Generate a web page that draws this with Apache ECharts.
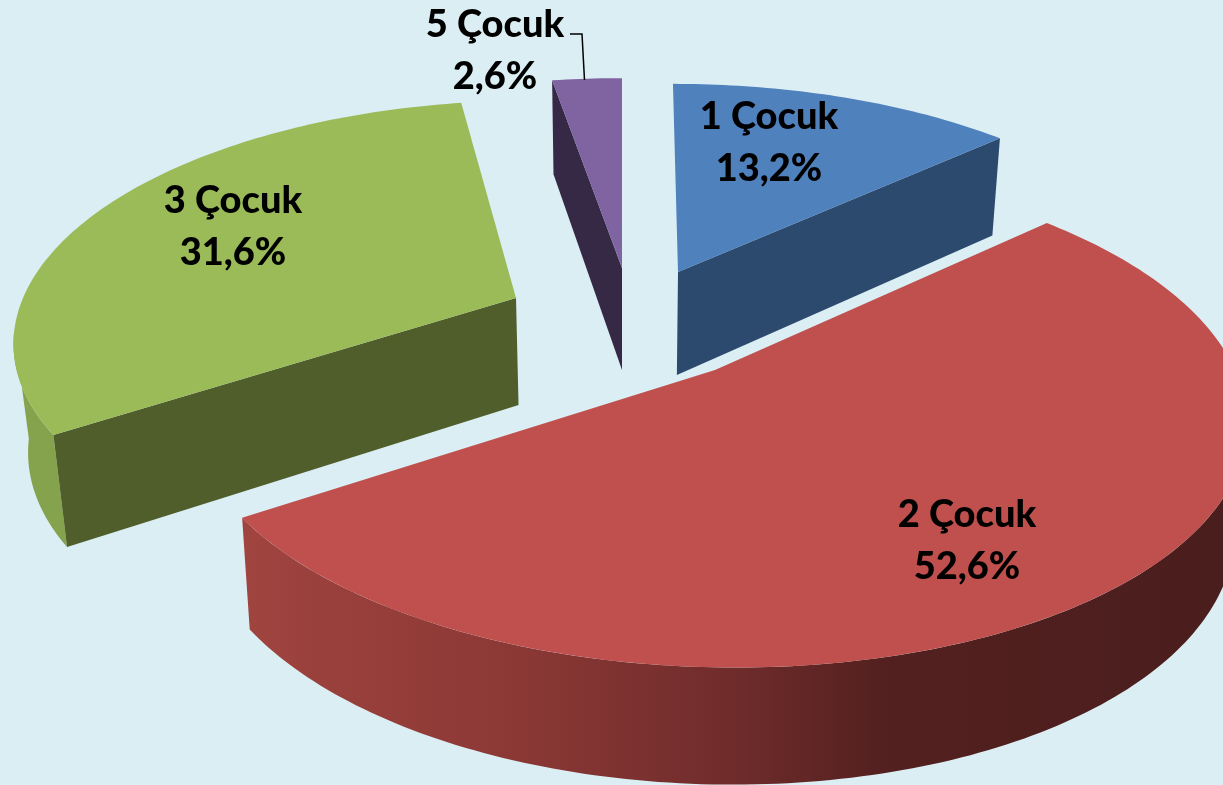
<!DOCTYPE html>
<html><head><meta charset="utf-8">
<style>html,body{margin:0;padding:0;background:#dbeef4}#c{width:1223px;height:785px}</style>
<script src="https://cdn.jsdelivr.net/npm/echarts@6/dist/echarts.min.js"></script>
</head><body><div id="c"></div>
<script>
const categories = ['1 Çocuk', '2 Çocuk', '3 Çocuk', '5 Çocuk'];
const shares = [13.2, 52.6, 31.6, 2.6];
const topColors = ['#4f81bd', '#c0504d', '#9bbb59', '#8064a2'];
const faceColors = ['#2c4a6e', null, '#505e2c', '#352945'];

// Projection of each exploded slice: apex on screen, radii, perspective strength
const view = { cx: 622 };
const geometry = [
  { ax: 678, ay: 272, R: 495, K: 222, p: 0.18, vx: 645, h: 103, q: 0.02 },
  { ax: 715, ay: 370, R: 520, K: 244, p: 0.18, vx: 622, h: 106, q: 0.02 },
  { ax: 516, ay: 298, R: 493, K: 229, p: 0.16, vx: 622, h: 107, q: 0.024 },
  { ax: 622, ay: 268, R: 506, K: 224, p: 0.18, vx: 622, h: 102, q: 0.02 }
];
// Which cut edge shows its side (0 = start edge, 1 = end edge), and outer wall span (deg)
const cutEdge = [1, null, 0, 0];
const wallSpan = [null, [104, null], [null, 262], null];
const labelPos = [[769, 143], [967, 541], [233, 227], [495, 51]];
const leader = [[570, 34], [582, 34], [584.5, 80]];

const total = shares.reduce((a, b) => a + b, 0);
const starts = [];
shares.reduce((acc, v, i) => { starts[i] = acc; return acc + v / total * 360; }, 0);

function proj(g, theta, r) {
  const t = theta * Math.PI / 180;
  const u = r * Math.sin(t), v = r * Math.cos(t);
  const s = 1 / (1 + g.p * v);
  return { x: g.vx + (g.ax - g.vx + g.R * u) * s, y: g.ay - g.K * v * s, s, h: g.h, q: g.q };
}
const top2 = q => [q.x, q.y];
const bot2 = q => [view.cx + (q.x - view.cx) * (1 - q.q), q.y + q.h * Math.sqrt(q.s)];

function arc(a, b) {
  const out = [], n = Math.max(2, Math.ceil(Math.abs(b - a)));
  for (let i = 0; i <= n; i++) out.push(a + (b - a) * i / n);
  return out;
}

const redWall = new echarts.graphic.LinearGradient(243, 0, 1223, 0, [
  { offset: 0, color: '#a0443f' },
  { offset: 0.28, color: '#8b3835' },
  { offset: 0.5, color: '#6f2c2b' },
  { offset: 0.66, color: '#52201f' },
  { offset: 1, color: '#4a1e1d' }
], true);
const wallFill = [null, redWall, '#85a34c', null];

function renderItem(params, api) {
  const i = api.value(0);
  const g = geometry[i];
  const a0 = starts[i], a1 = a0 + api.value(1) / total * 360;
  const kids = [];
  if (wallSpan[i]) {
    const from = wallSpan[i][0] == null ? a0 : wallSpan[i][0];
    const to = wallSpan[i][1] == null ? a1 : wallSpan[i][1];
    const thetas = arc(from, to).map(t => proj(g, t, 1));
    kids.push({ type: 'polygon', z2: 1, shape: { points: thetas.map(top2).concat(thetas.map(bot2).reverse()) },
      style: { fill: wallFill[i] } });
  }
  if (cutEdge[i] != null) {
    const e = proj(g, cutEdge[i] ? a1 : a0, 1), c = proj(g, 0, 0);
    kids.push({ type: 'polygon', z2: 2, shape: { points: [top2(c), top2(e), bot2(e), bot2(c)] },
      style: { fill: faceColors[i] } });
  }
  const pts = [top2(proj(g, 0, 0))].concat(arc(a0, a1).map(t => top2(proj(g, t, 1))));
  kids.push({ type: 'polygon', z2: 3, shape: { points: pts }, style: { fill: topColors[i] } });
  if (i === 3) {
    kids.push({ type: 'polyline', z2: 5, shape: { points: leader },
      style: { stroke: '#000', lineWidth: 1.5, fill: 'none' } });
  }
  kids.push({ type: 'text', z2: 10, style: {
    text: categories[i] + '\n' + shares[i].toFixed(1).replace('.', ',') + '%',
    x: labelPos[i][0], y: labelPos[i][1], align: 'center', verticalAlign: 'middle',
    font: '900 38px Lato', lineHeight: 52, fill: '#000'
  } });
  return { type: 'group', children: kids };
}

const chart = echarts.init(document.getElementById('c'), null, { renderer: 'canvas' });
chart.setOption({
  animation: false,
  backgroundColor: '#dbeef4',
  series: [{
    type: 'custom',
    coordinateSystem: 'none',
    renderItem,
    clip: false,
    data: shares.map((v, i) => ({ name: categories[i], value: [i, v] }))
  }]
});
</script></body></html>
